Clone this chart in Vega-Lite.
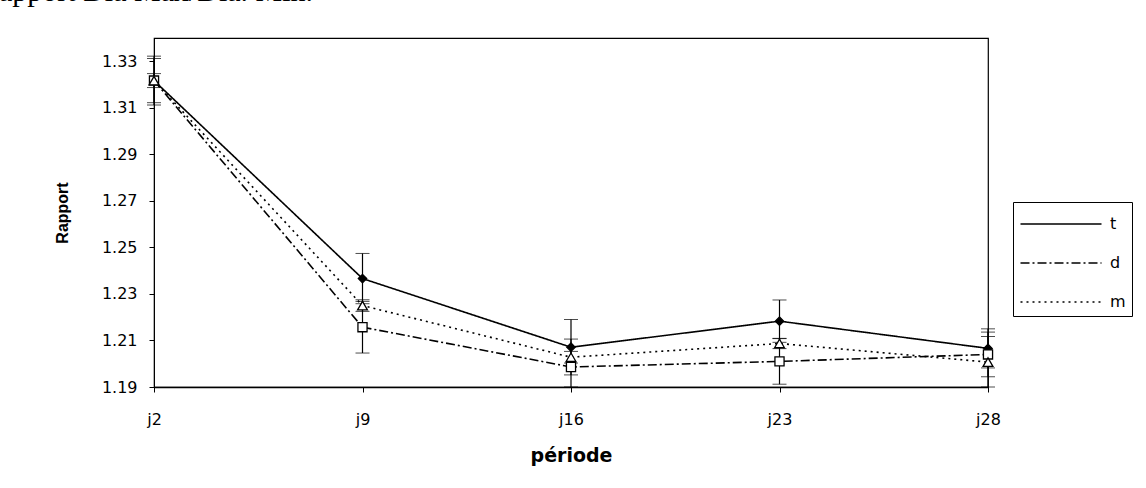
{
  "$schema": "https://vega.github.io/schema/vega-lite/v6.json",
  "width": 834,
  "height": 349,
  "autosize": {"type": "none"},
  "padding": {"left": 154, "top": 38, "right": 158, "bottom": 101},
  "background": "white",
  "title": {"text": "Rapport Dia Max/Dia. Min.", "anchor": "start", "frame": "group", "dx": -175, "offset": 31, "font": "Liberation Serif", "fontSize": 30, "fontWeight": "normal", "color": "black"},
  "config": {
    "view": {"stroke": "black", "strokeWidth": 1.2},
    "font": "DejaVu Sans",
    "axis": {"grid": false, "domainColor": "black", "tickColor": "black", "labelColor": "black", "titleColor": "black", "labelFont": "DejaVu Sans", "titleFont": "DejaVu Sans"}
  },
  "data": {"values": [
    {"periode": "j2", "serie": "t", "value": 1.3217, "err": 0.0105},
    {"periode": "j9", "serie": "t", "value": 1.2366, "err": 0.0108},
    {"periode": "j16", "serie": "t", "value": 1.2071, "err": 0.0119},
    {"periode": "j23", "serie": "t", "value": 1.2183, "err": 0.0091},
    {"periode": "j28", "serie": "t", "value": 1.2066, "err": 0.0084},
    {"periode": "j2", "serie": "d", "value": 1.3217, "err": 0.0095},
    {"periode": "j9", "serie": "d", "value": 1.2157, "err": 0.0111},
    {"periode": "j16", "serie": "d", "value": 1.1986, "err": 0.012},
    {"periode": "j23", "serie": "d", "value": 1.201, "err": 0.0098},
    {"periode": "j28", "serie": "d", "value": 1.204, "err": 0.0096},
    {"periode": "j2", "serie": "m", "value": 1.3217, "err": 0.003},
    {"periode": "j9", "serie": "m", "value": 1.225, "err": 0.0025},
    {"periode": "j16", "serie": "m", "value": 1.2028, "err": 0.0025},
    {"periode": "j23", "serie": "m", "value": 1.2087, "err": 0.0022},
    {"periode": "j28", "serie": "m", "value": 1.2007, "err": 0.011}
  ]},
  "encoding": {
    "x": {"field": "periode", "type": "ordinal", "sort": ["j2", "j9", "j16", "j23", "j28"], "scale": {"type": "point", "padding": 0},
      "axis": {"title": "période", "titleFontSize": 19, "titleFontWeight": "bold", "titlePadding": 19, "labelAngle": 0, "labelFontSize": 16, "labelPadding": 19, "tickSize": 5, "domainWidth": 1.6}},
    "y": {"field": "value", "type": "quantitative", "scale": {"domain": [1.19, 1.34], "clamp": true, "nice": false, "zero": false},
      "axis": {"title": "Rapport", "titleFont": "Liberation Sans", "titleFontSize": 16, "titleFontWeight": "bold", "titlePadding": 31, "values": [1.19, 1.21, 1.23, 1.25, 1.27, 1.29, 1.31, 1.33], "format": ".2f", "labelFontSize": 16, "labelPadding": 12, "tickSize": 5}}
  },
  "layer": [
    {
      "mark": {"type": "errorbar", "color": "black", "ticks": {"size": 14, "color": "black"}, "rule": {"color": "black", "strokeWidth": 1.2}},
      "encoding": {"yError": {"field": "err"}, "detail": {"field": "serie"}}
    },
    {
      "mark": {"type": "line", "color": "black", "strokeWidth": 1.6},
      "encoding": {"strokeDash": {"field": "serie", "type": "nominal", "scale": {"domain": ["t", "d", "m"], "range": [[1, 0], [9, 3, 2, 3], [2, 4]]}, "legend": {"title": null}}}
    },
    {
      "mark": {"type": "point", "shape": "M-2.7,0L2.7,0", "stroke": "black", "strokeWidth": 1.3, "opacity": 1, "fillOpacity": 1},
      "encoding": {
        "shape": {"field": "serie", "type": "nominal", "scale": {"domain": ["t", "d", "m", "-"], "range": ["diamond", "square", "triangle-up", "circle"]}, "legend": null},
        "fill": {"field": "serie", "type": "nominal", "scale": {"domain": ["t", "d", "m"], "range": ["black", "white", "white"]},
          "legend": {"orient": "none", "legendX": 859, "legendY": 164, "title": null, "strokeColor": "black", "padding": 6, "symbolType": "M-2.7,0L2.7,0", "symbolSize": 900, "symbolStrokeColor": "black", "symbolStrokeWidth": 1.6, "symbolOffset": 26, "labelFontSize": 16, "labelOffset": 33, "rowPadding": 15, "labelFont": "DejaVu Sans", "labelColor": "black"}},
        "size": {"field": "serie", "type": "nominal", "scale": {"domain": ["t", "d", "m", "-"], "range": [70, 110, 100, 100]}, "legend": null}
      }
    }
  ]
}
